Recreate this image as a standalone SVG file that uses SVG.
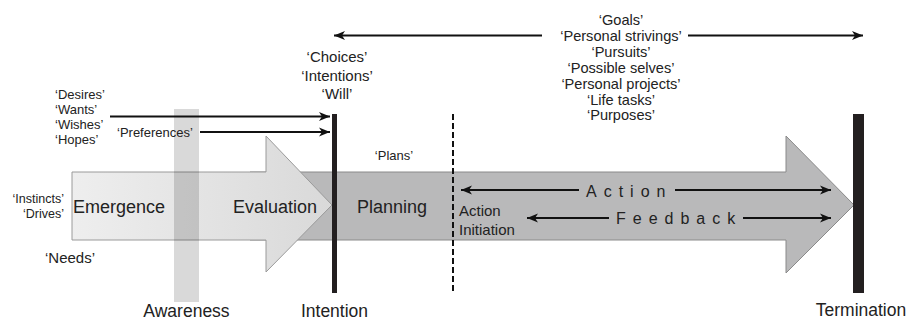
<svg xmlns="http://www.w3.org/2000/svg" width="910" height="321" viewBox="0 0 910 321">
<defs>
<linearGradient id="lightGrad" x1="0" y1="0" x2="1" y2="0">
<stop offset="0" stop-color="#eeeeee"/>
<stop offset="1" stop-color="#d9d9d9"/>
</linearGradient>
<marker id="ah" markerUnits="userSpaceOnUse" markerWidth="14" markerHeight="12" viewBox="-12 -6 14 12" refX="0" refY="0" orient="auto">
<path d="M0,0 L-11,-4.5 L-8,0 L-11,4.5 Z" fill="#111"/>
</marker>
</defs>
<style>
text{font-family:"Liberation Sans",Arial,sans-serif;fill:#222}
.big{font-size:18px}
.bot{font-size:17.5px}
.q15{font-size:15px}
.q14{font-size:14.6px}
.q13{font-size:13px}
.q12{font-size:12.5px}
.sp{font-size:16px;letter-spacing:7px}
.mid{text-anchor:middle}
.end{text-anchor:end}
.conn line{stroke:#111;stroke-width:2;marker-end:url(#ah)}
.bar{fill:#231f20}
</style>
<rect width="910" height="321" fill="#fff"/>

<g id="action-arrow">
<path d="M250,172 L786,172 L786,136 L854,205 L786,273 L786,240 L250,240 Z" fill="#b9b9ba" stroke="#8a8a8a" stroke-width="1"/>
</g>
<g id="emergence-arrow">
<path d="M72,172 L266,172 L266,136 L332,205 L266,272 L266,240 L72,240 Z" fill="url(#lightGrad)" stroke="#9a9a9a" stroke-width="1"/>
</g>
<g id="awareness">
<rect x="174" y="109" width="25" height="193" fill="#000" fill-opacity="0.15"/>
<text class="bot mid" x="186.5" y="316.5">Awareness</text>
</g>
<g id="intention">
<rect class="bar" x="332" y="114" width="5" height="179"/>
<text class="bot mid" x="334.5" y="316.5">Intention</text>
</g>
<g id="termination">
<rect class="bar" x="853" y="114" width="11" height="179"/>
<text class="bot mid" x="861" y="316">Termination</text>
</g>
<g id="action-initiation-line">
<line x1="453" y1="114" x2="453" y2="293" stroke="#111" stroke-width="2" stroke-dasharray="6 3"/>
</g>

<g id="emergence"><text class="big" x="73" y="213">Emergence</text></g>
<g id="evaluation"><text class="big" x="233" y="213">Evaluation</text></g>
<g id="planning"><text class="big" x="357" y="213">Planning</text></g>
<g id="action-initiation">
<text class="q15" x="459" y="216">Action</text>
<text class="q15" x="459" y="235">Initiation</text>
</g>
<g id="action-label"><text class="sp" x="586" y="196.5">Action</text></g>
<g id="feedback-label"><text class="sp" x="616" y="223.5">Feedback</text></g>

<g id="desires">
<text class="q13" x="55" y="99">‘Desires’</text>
<text class="q13" x="55" y="114">‘Wants’</text>
<text class="q13" x="55" y="129">‘Wishes’</text>
<text class="q13" x="55" y="144">‘Hopes’</text>
</g>
<g id="preferences"><text class="q13" x="117" y="136.5">‘Preferences’</text></g>
<g id="instincts">
<text class="q12 end" x="64" y="202.5">‘Instincts’</text>
<text class="q12 end" x="64" y="217.5">‘Drives’</text>
</g>
<g id="needs"><text class="q15" x="45" y="263">‘Needs’</text></g>
<g id="plans"><text class="q13 mid" x="394" y="160">‘Plans’</text></g>
<g id="choices">
<text class="q15 mid" x="337" y="62">‘Choices’</text>
<text class="q15 mid" x="337" y="81">‘Intentions’</text>
<text class="q15 mid" x="337" y="99">‘Will’</text>
</g>
<g id="goals">
<text class="q14 mid" x="621" y="25">‘Goals’</text>
<text class="q14 mid" x="621" y="41">‘Personal strivings’</text>
<text class="q14 mid" x="621" y="57">‘Pursuits’</text>
<text class="q14 mid" x="621" y="73">‘Possible selves’</text>
<text class="q14 mid" x="621" y="89">‘Personal projects’</text>
<text class="q14 mid" x="621" y="104.5">‘Life tasks’</text>
<text class="q14 mid" x="621" y="120">‘Purposes’</text>
</g>

<g id="connectors" class="conn">
<line x1="110" y1="116.5" x2="330" y2="116.5"/>
<line x1="200" y1="132" x2="330" y2="132"/>
<line x1="542" y1="35.5" x2="334" y2="35.5"/>
<line x1="688" y1="35.5" x2="863" y2="35.5"/>
<line x1="579" y1="190" x2="461" y2="190"/>
<line x1="675" y1="190" x2="831" y2="190"/>
<line x1="609" y1="218" x2="527" y2="218"/>
<line x1="743" y1="218" x2="831" y2="218"/>
</g>
</svg>
